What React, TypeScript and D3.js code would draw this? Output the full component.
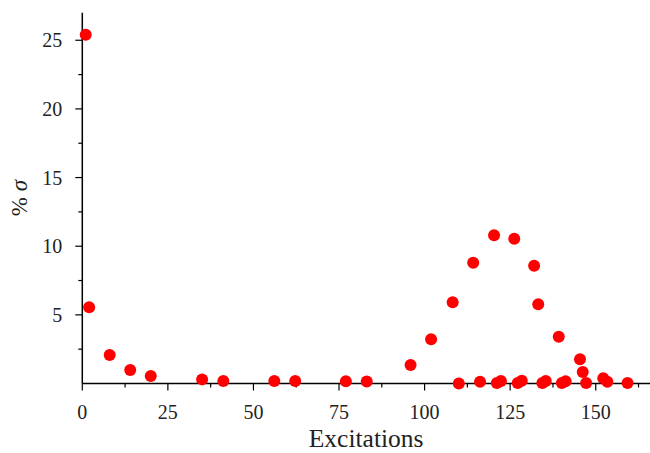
import React from "react";
import * as d3 from "d3";

const excitations = [1, 2, 8, 14, 20, 35, 41.2, 56.1, 62.2, 77, 83.1, 95.9, 101.9, 108.2, 114.2, 120.3, 126.2, 132, 133.2, 139.2, 145.4, 146.2, 147.2, 152.2, 153.4, 159.3, 110, 116.2, 121.1, 122.3, 127.2, 128.4, 134.4, 135.4, 140.1, 141.2];
const sigmaPct = [25.4, 5.55, 2.08, 0.98, 0.55, 0.3, 0.18, 0.18, 0.18, 0.16, 0.14, 1.35, 3.22, 5.91, 8.8, 10.79, 10.55, 8.58, 5.77, 3.41, 1.76, 0.84, 0.04, 0.38, 0.13, 0.04, 0.0, 0.13, 0.03, 0.18, 0.03, 0.2, 0.03, 0.18, 0.03, 0.16];
const xMajorTicks = [0, 25, 50, 75, 100, 125, 150];
const xMinorTicks = [12.5, 37.5, 62.5, 87.5, 112.5, 137.5, 162.5];
const yMajorTicks = [5, 10, 15, 20, 25];
const yMinorTicks = [2.5, 7.5, 12.5, 17.5, 22.5];

export default function App() {
  const W = 650, H = 453;
  const x = d3.scaleLinear().domain([0, 166]).range([82.3, 650.5]);
  const y = d3.scaleLinear().domain([0, 27]).range([383.5, 12.8]);
  const font = "Liberation Serif, Tinos, Times New Roman, Times, DejaVu Serif, serif";
  const tf = { fontFamily: font };
  const x0 = x(0), y0 = y(0);
  return (
    <svg width={W} height={H} style={{ position: "absolute", left: 0, top: 0 }}>
      <rect width={W} height={H} fill="#fff" />
      <line x1={x0} x2={x0} y1={y(27)} y2={y0} stroke="#000" strokeWidth={1.5} />
      <line x1={x0} x2={W} y1={y0} y2={y0} stroke="#000" strokeWidth={1.5} />
      {xMajorTicks.map((t) => (
        <g key={"xm" + t}>
          <line x1={x(t)} x2={x(t)} y1={y0} y2={y0 + 7} stroke="#000" strokeWidth={1.2} />
          <text x={x(t)} y={y0 + 35} textAnchor="middle" style={tf} fontSize={20} fill="#222">{t}</text>
        </g>
      ))}
      {xMinorTicks.map((t) => (
        <line key={"xn" + t} x1={x(t)} x2={x(t)} y1={y0} y2={y0 + 4} stroke="#000" strokeWidth={1.2} />
      ))}
      {yMajorTicks.map((t) => (
        <g key={"ym" + t}>
          <line x1={x0 - 7} x2={x0} y1={y(t)} y2={y(t)} stroke="#000" strokeWidth={1.2} />
          <text x={x0 - 20} y={y(t)} dy="0.35em" textAnchor="end" style={tf} fontSize={20} fill="#222">{t}</text>
        </g>
      ))}
      {yMinorTicks.map((t) => (
        <line key={"yn" + t} x1={x0 - 4} x2={x0} y1={y(t)} y2={y(t)} stroke="#000" strokeWidth={1.2} />
      ))}
      <text x={(x0 + 650) / 2} y={447} textAnchor="middle" style={tf} fontSize={25.5} fill="#222">Excitations</text>
      <text transform={`translate(27, ${(y(27) + y0) / 2}) rotate(-90)`} textAnchor="middle" style={tf} fontSize={23} fill="#222">
        % <tspan fontStyle="italic">σ</tspan>
      </text>
      {excitations.map((e, i) => (
        <circle key={i} cx={x(e)} cy={y(sigmaPct[i])} r={6} fill="#ff0000" />
      ))}
    </svg>
  );
}
